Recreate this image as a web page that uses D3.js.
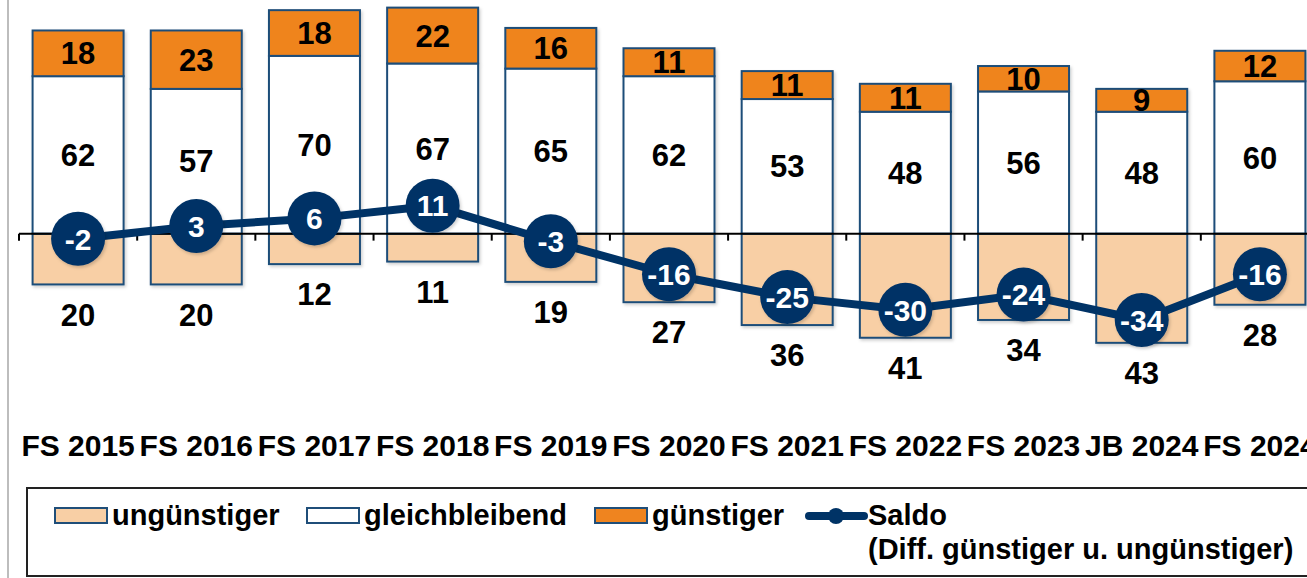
<!DOCTYPE html>
<html>
<head>
<meta charset="utf-8">
<script src="https://d3js.org/d3.v7.min.js"></script>
<style>
  body { margin: 0; background: #fff; }
  svg { display: block; font-family: "Liberation Sans", Arial, sans-serif; font-weight: bold; }
</style>
</head>
<body>
<div class="chart"></div>
<script>
// data
var categories = ["FS 2015", "FS 2016", "FS 2017", "FS 2018", "FS 2019", "FS 2020", "FS 2021", "FS 2022", "FS 2023", "JB 2024", "FS 2024"];
var guenstiger = [18, 23, 18, 22, 16, 11, 11, 11, 10, 9, 12];
var gleichbleibend = [62, 57, 70, 67, 65, 62, 53, 48, 56, 48, 60];
var unguenstiger = [20, 20, 12, 11, 19, 27, 36, 41, 34, 43, 28];
var saldo = [-2, 3, 6, 11, -3, -16, -25, -30, -24, -34, -16];

var legendLabels = ["ungünstiger", "gleichbleibend", "günstiger", "Saldo"];
var legendNote = "(Diff. günstiger u. ungünstiger)";

var w = 1307, h = 578;
var navy = "#003366", barStroke = "#1f4e79";
var cOrange = "#ef841f", cPeach = "#f8cfa5", cWhite = "#ffffff";

var svg = d3.select("div.chart").append("svg")
    .attr("width", w).attr("height", h);

// soft shadow like the original
var defs = svg.append("defs");
var f = defs.append("filter").attr("id", "sh").attr("x", "-10%").attr("y", "-10%").attr("width", "130%").attr("height", "130%");
f.append("feDropShadow").attr("dx", 1.5).attr("dy", 2).attr("stdDeviation", 1.5)
    .attr("flood-color", "#000").attr("flood-opacity", 0.18);

// left border of the chart area
svg.append("line").attr("x1", 8).attr("x2", 8).attr("y1", 0).attr("y2", h)
    .attr("stroke", "#bdbdbd").attr("stroke-width", 2);

// scales
var x = d3.scaleBand()
    .domain(categories)
    .range([19, 1319])
    .paddingInner(0.23)
    .paddingOuter(0.115);

var y = d3.scaleLinear()
    .domain([-60, 92])
    .range([386, 0]);

var rows = categories.map(function(c, i) {
    return { cat: c, g: guenstiger[i], m: gleichbleibend[i], u: unguenstiger[i], s: saldo[i] };
});

var bars = svg.append("g").attr("filter", "url(#sh)");

// ungünstiger below zero
bars.selectAll("rect.u").data(rows).enter().append("rect")
    .attr("class", "u")
    .attr("x", function(d) { return x(d.cat); })
    .attr("y", y(0))
    .attr("width", x.bandwidth())
    .attr("height", function(d) { return y(-d.u) - y(0); })
    .attr("fill", cPeach).attr("stroke", barStroke).attr("stroke-width", 2);

// gleichbleibend from zero up
bars.selectAll("rect.m").data(rows).enter().append("rect")
    .attr("class", "m")
    .attr("x", function(d) { return x(d.cat); })
    .attr("y", function(d) { return y(d.m); })
    .attr("width", x.bandwidth())
    .attr("height", function(d) { return y(0) - y(d.m); })
    .attr("fill", cWhite).attr("stroke", barStroke).attr("stroke-width", 2);

// günstiger on top
bars.selectAll("rect.g").data(rows).enter().append("rect")
    .attr("class", "g")
    .attr("x", function(d) { return x(d.cat); })
    .attr("y", function(d) { return y(d.m + d.g); })
    .attr("width", x.bandwidth())
    .attr("height", function(d) { return y(d.m) - y(d.m + d.g); })
    .attr("fill", cOrange).attr("stroke", barStroke).attr("stroke-width", 2);

// zero line with boundary ticks
svg.append("line")
    .attr("x1", x.range()[0]).attr("x2", w)
    .attr("y1", y(0)).attr("y2", y(0))
    .attr("stroke", "#000").attr("stroke-width", 2);
svg.selectAll("line.tick").data(d3.range(categories.length + 1)).enter().append("line")
    .attr("class", "tick")
    .attr("x1", function(i) { return x.range()[0] + i * x.step(); })
    .attr("x2", function(i) { return x.range()[0] + i * x.step(); })
    .attr("y1", y(0)).attr("y2", y(0) + 7)
    .attr("stroke", "#000").attr("stroke-width", 2);

// value labels
var mid = function(d) { return x(d.cat) + x.bandwidth() / 2; };
svg.selectAll("text.g").data(rows).enter().append("text")
    .attr("x", mid)
    .attr("y", function(d) { return (y(d.m) + y(d.m + d.g)) / 2; })
    .attr("dy", "0.36em").attr("text-anchor", "middle")
    .attr("font-size", "31px").attr("fill", "#000")
    .text(function(d) { return d.g; });
svg.selectAll("text.m").data(rows).enter().append("text")
    .attr("x", mid)
    .attr("y", function(d) { return (y(0) + y(d.m)) / 2; })
    .attr("dy", "0.36em").attr("text-anchor", "middle")
    .attr("font-size", "31px").attr("fill", "#000")
    .text(function(d) { return d.m; });
svg.selectAll("text.u").data(rows).enter().append("text")
    .attr("x", mid)
    .attr("y", function(d) { return y(-d.u) + 30; })
    .attr("dy", "0.36em").attr("text-anchor", "middle")
    .attr("font-size", "31px").attr("fill", "#000")
    .text(function(d) { return d.u; });

// saldo line
var line = d3.line()
    .x(function(d) { return mid(d); })
    .y(function(d) { return y(d.s); });
svg.append("path").datum(rows)
    .attr("d", line)
    .attr("fill", "none").attr("stroke", navy).attr("stroke-width", 8)
    .attr("stroke-linejoin", "round");

var dots = svg.append("g").attr("filter", "url(#sh)");
dots.selectAll("circle").data(rows).enter().append("circle")
    .attr("cx", mid).attr("cy", function(d) { return y(d.s); })
    .attr("r", 27).attr("fill", navy);
svg.selectAll("text.s").data(rows).enter().append("text")
    .attr("x", mid).attr("y", function(d) { return y(d.s); })
    .attr("dy", "0.36em").attr("text-anchor", "middle")
    .attr("font-size", "30px").attr("fill", "#fff")
    .text(function(d) { return d.s; });

// category labels
var xAxis = d3.axisBottom(x).tickSize(0).tickPadding(0);
var gx = svg.append("g").attr("transform", "translate(0,433)").call(xAxis);
gx.select(".domain").remove();
gx.selectAll("text")
    .attr("dy", "0.75em")
    .attr("font-family", "Liberation Sans, Arial, sans-serif")
    .attr("font-weight", "bold")
    .attr("font-size", "30px").attr("fill", "#000");

// legend
var lg = svg.append("g");
lg.append("rect").attr("x", 27).attr("y", 488).attr("width", 1300).attr("height", 88)
    .attr("fill", "#fff").attr("stroke", "#222").attr("stroke-width", 2);

var swX = [55, 307, 595];
var swFill = [cPeach, cWhite, cOrange];
for (var i = 0; i < 3; i++) {
    lg.append("rect").attr("x", swX[i]).attr("y", 508).attr("width", 52).attr("height", 15)
        .attr("fill", swFill[i]).attr("stroke", barStroke).attr("stroke-width", 2);
    lg.append("text").attr("x", swX[i] + 57).attr("y", 525)
        .attr("font-size", "29px").attr("fill", "#000").text(legendLabels[i]);
}
lg.append("line").attr("x1", 809).attr("x2", 864).attr("y1", 516).attr("y2", 516)
    .attr("stroke", navy).attr("stroke-width", 8).attr("stroke-linecap", "round");
lg.append("circle").attr("cx", 836).attr("cy", 516).attr("r", 8).attr("fill", navy);
lg.append("text").attr("x", 868).attr("y", 525)
    .attr("font-size", "29px").attr("fill", "#000").text(legendLabels[3]);
lg.append("text").attr("x", 868).attr("y", 559)
    .attr("font-size", "29px").attr("fill", "#000").text(legendNote);
</script>
</body>
</html>
